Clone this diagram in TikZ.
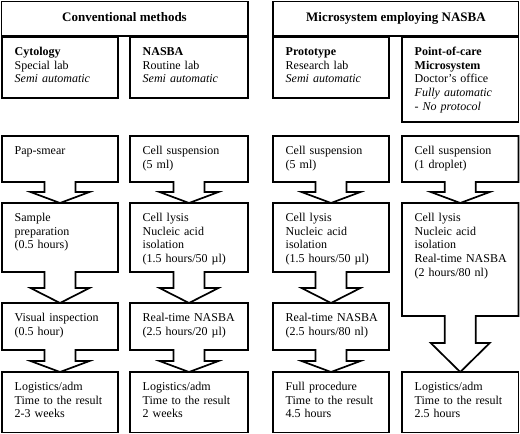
\documentclass[tikz,border=0pt]{standalone}
\usepackage{fontspec}
\setmainfont{Liberation Serif}
\tikzset{
  box/.style={draw=black, line width=1.7pt, line join=miter},
  txt/.style={anchor=north west, inner sep=0pt, align=left, text width=104pt,
    font=\fontsize{12}{13.8}\selectfont},
  head/.style={anchor=base, inner sep=0pt, font=\fontsize{13}{15}\selectfont\bfseries},
}
% L R T B S P : left, right, top, rect bottom, stem bottom, tip
\newcommand\arrbox[6]{%
  \pgfmathsetmacro\acx{(#1+#2)/2}%
  \draw[box] (#1,#3) -- (#2,#3) -- (#2,#4) -- (\acx+15.5,#4) -- (\acx+15.5,#5)
    -- (\acx+29.5,#5) -- (\acx,#6) -- (\acx-29.5,#5) -- (\acx-15.5,#5)
    -- (\acx-15.5,#4) -- (#1,#4) -- cycle;%
}
\begin{document}
\begin{tikzpicture}[x=1pt,y=-1pt]
\useasboundingbox (0,0) rectangle (520,434);
% headers
\draw[box] (1.5,1.5) rectangle (248,36);
\draw[box] (273,1.5) rectangle (518.5,36);
\node[head] (hconv) at (124.5,21.5) {Conventional methods};
\node[head] (hmicro) at (396,21.5) {Microsystem employing NASBA};
% sub boxes
\draw[box] (2,37.5) rectangle (118,98);
\draw[box] (130,37.5) rectangle (248,98);
\draw[box] (273,37.5) rectangle (389,98);
\draw[box] (402,37.5) rectangle (518.5,122);
\node[txt] (s1) at (14.5,45.5) {\strut\textbf{Cytology}\\Special lab\\\textit{Semi automatic}};
\node[txt] (s2) at (142.5,45.5) {\strut\textbf{NASBA}\\Routine lab\\\textit{Semi automatic}};
\node[txt] (s3) at (285.5,45.5) {\strut\textbf{Prototype}\\Research lab\\\textit{Semi automatic}};
\node[txt] (s4) at (414.5,45.5) {\strut\textbf{Point-of-care}\\\textbf{Microsystem}\\Doctor’s office\\\textit{Fully automatic}\\\textit{- No protocol}};
% row 3
\arrbox{2}{118}{136}{182}{192}{203}
\arrbox{130}{248}{136}{182}{192}{203}
\arrbox{273}{389}{136}{182}{192}{203}
\arrbox{402}{518.5}{136}{182}{192}{203}
\node[txt] (a1) at (14.5,144.5) {\strut Pap-smear};
\node[txt] (b1) at (142.5,144.5) {\strut Cell suspension\\(5 ml)};
\node[txt] (c1) at (285.5,144.5) {\strut Cell suspension\\(5 ml)};
\node[txt] (d1) at (414.5,144.5) {\strut Cell suspension\\(1 droplet)};
% row 4
\arrbox{2}{118}{203}{272}{288}{303}
\arrbox{130}{248}{203}{272}{288}{303}
\arrbox{273}{389}{203}{272}{288}{303}
\arrbox{402}{518.5}{203}{316}{343}{372}
\node[txt] (a2) at (14.5,211.5) {\strut Sample\\preparation\\(0.5 hours)};
\node[txt] (b2) at (142.5,211.5) {\strut Cell lysis\\Nucleic acid\\isolation\\(1.5 hours/50 µl)};
\node[txt] (c2) at (285.5,211.5) {\strut Cell lysis\\Nucleic acid\\isolation\\(1.5 hours/50 µl)};
\node[txt] (d2) at (414.5,211.5) {\strut Cell lysis\\Nucleic acid\\isolation\\Real-time NASBA\\(2 hours/80 nl)};
% row 5
\arrbox{2}{118}{303}{350}{361}{372}
\arrbox{130}{248}{303}{350}{361}{372}
\arrbox{273}{389}{303}{350}{361}{372}
\node[txt] (a3) at (14.5,311.5) {\strut Visual inspection\\(0.5 hour)};
\node[txt] (b3) at (142.5,311.5) {\strut Real-time NASBA\\(2.5 hours/20 µl)};
\node[txt] (c3) at (285.5,311.5) {\strut Real-time NASBA\\(2.5 hours/80 nl)};
% row 6
\draw[box] (2,372) rectangle (118,432.5);
\draw[box] (130,372) rectangle (248,432.5);
\draw[box] (273,372) rectangle (389,432.5);
\draw[box] (402,372) rectangle (518.5,432.5);
\node[txt] (a4) at (14.5,380.5) {\strut Logistics/adm\\Time to the result\\2-3 weeks};
\node[txt] (b4) at (142.5,380.5) {\strut Logistics/adm\\Time to the result\\2 weeks};
\node[txt] (c4) at (285.5,380.5) {\strut Full procedure\\Time to the result\\4.5 hours};
\node[txt] (d4) at (414.5,380.5) {\strut Logistics/adm\\Time to the result\\2.5 hours};
\end{tikzpicture}
\end{document}
